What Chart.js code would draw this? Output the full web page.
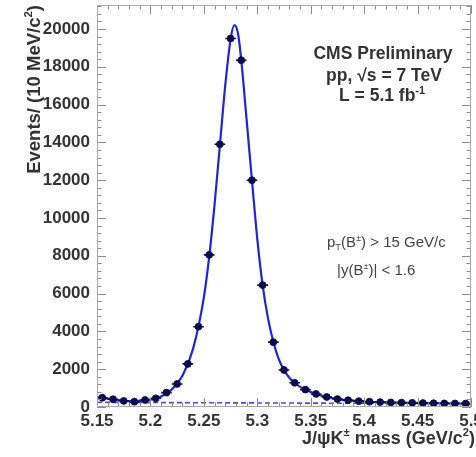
<!DOCTYPE html>
<html>
<head>
<meta charset="utf-8">
<title>B+ to J/psi K+ mass</title>
<script src="https://cdn.jsdelivr.net/npm/chart.js@4.4.1/dist/chart.umd.min.js"></script>
<style>
  html, body { margin: 0; padding: 0; background: #fff; }
  #wrap { width: 476px; height: 457px; position: relative; }
</style>
</head>
<body>
<div id="wrap"><canvas id="massChart" width="476" height="457"></canvas></div>
<script>
// candidates per 10 MeV bin
const binCenters = [5.155, 5.165, 5.175, 5.185, 5.195, 5.205, 5.215, 5.225, 5.235, 5.245,
                    5.255, 5.265, 5.275, 5.285, 5.295, 5.305, 5.315, 5.325, 5.335, 5.345,
                    5.355, 5.365, 5.375, 5.385, 5.395, 5.405, 5.415, 5.425, 5.435, 5.445,
                    5.455, 5.465, 5.475, 5.485, 5.495];
const binCounts = [490, 410, 320, 280, 370, 460, 760, 1220, 2280, 4250,
                   8050, 13900, 19500, 18350, 12000, 6450, 3430, 1960, 1280, 920,
                   690, 530, 420, 360, 310, 280, 260, 240, 230, 220,
                   210, 200, 190, 185, 180];

// total fit, sampled along the mass axis
const fitMass = [5.150, 5.160, 5.170, 5.180, 5.190, 5.200, 5.210, 5.220, 5.230, 5.240,
                 5.250, 5.255, 5.260, 5.265, 5.270, 5.275, 5.2785, 5.282, 5.285, 5.290,
                 5.295, 5.300, 5.305, 5.310, 5.315, 5.320, 5.325, 5.330, 5.335, 5.345,
                 5.355, 5.365, 5.375, 5.385, 5.400, 5.420, 5.440, 5.460, 5.480, 5.500];
const fitValues = [520, 440, 360, 310, 320, 390, 560, 930, 1650, 3100,
                   5800, 7950, 10700, 13850, 17000, 19450, 20200, 19750, 18350, 15200,
                   12000, 8900, 6450, 4700, 3450, 2550, 1950, 1550, 1270, 910,
                   690, 530, 420, 350, 290, 245, 220, 200, 185, 175];

// background component of the fit
const bkgMass = [5.15, 5.25, 5.35, 5.5];
const bkgValues = [250, 225, 205, 180];

const xTicks = [5.15, 5.2, 5.25, 5.3, 5.35, 5.4, 5.45, 5.5];
const xTickLabels = ['5.15', '5.2', '5.25', '5.3', '5.35', '5.4', '5.45', '5.5'];
const yTicks = [0, 2000, 4000, 6000, 8000, 10000, 12000, 14000, 16000, 18000, 20000];

const X_MIN = 5.15, X_MAX = 5.5, Y_MAX = 21270;
const BIN_HALF = 0.005;

const markerColor = '#0c0c4c';
const fitColor = '#2424c8';
const textColor = '#333';
const FONT = '"Liberation Sans", Arial, sans-serif';
const labelFont = { family: FONT, size: 17, weight: 'bold' };

function toPoints(xs, ys) {
  return xs.map((x, i) => ({ x: x, y: ys[i] }));
}

// text pieces with sub/superscripts, laid out left to right
function richWidth(ctx, parts, size, weight) {
  let w = 0;
  parts.forEach(p => {
    const s = p.sup || p.sub ? size * 0.62 : size;
    ctx.font = weight + ' ' + s + 'px ' + FONT;
    w += ctx.measureText(p.t).width;
  });
  return w;
}
function drawRich(ctx, parts, x, y, size, weight) {
  ctx.textBaseline = 'alphabetic';
  ctx.textAlign = 'left';
  parts.forEach(p => {
    const s = p.sup || p.sub ? size * 0.62 : size;
    ctx.font = weight + ' ' + s + 'px ' + FONT;
    let dy = 0;
    if (p.sup) dy = -size * 0.42;
    if (p.sub) dy = size * 0.22;
    ctx.fillText(p.t, x, y + dy);
    x += ctx.measureText(p.t).width;
  });
}

// frame, inward ticks on all four sides, error bars
const framePlugin = {
  id: 'frame',
  afterDatasetsDraw(chart) {
    const ctx = chart.ctx;
    const a = chart.chartArea;
    const xs = chart.scales.x, ys = chart.scales.y;

    ctx.save();
    ctx.strokeStyle = markerColor;
    ctx.lineWidth = 1.6;
    binCenters.forEach((m, i) => {
      const px = xs.getPixelForValue(m);
      const py = ys.getPixelForValue(binCounts[i]);
      const x0 = xs.getPixelForValue(m - BIN_HALF), x1 = xs.getPixelForValue(m + BIN_HALF);
      const err = Math.sqrt(binCounts[i]);
      ctx.beginPath();
      ctx.moveTo(x0, py); ctx.lineTo(x1, py);
      ctx.moveTo(px, ys.getPixelForValue(binCounts[i] - err));
      ctx.lineTo(px, ys.getPixelForValue(binCounts[i] + err));
      ctx.stroke();
    });
    ctx.restore();

    ctx.save();
    ctx.strokeStyle = '#8c8c8c';
    ctx.lineWidth = 1;
    ctx.beginPath();
    for (let v = 0; v <= Y_MAX; v += 400) {
      const py = Math.round(ys.getPixelForValue(v)) + 0.5;
      const len = v % 2000 === 0 ? 9 : 4.5;
      ctx.moveTo(a.left, py); ctx.lineTo(a.left + len, py);
      ctx.moveTo(a.right, py); ctx.lineTo(a.right - len, py);
    }
    for (let k = 0; k <= 35; k++) {
      const m = X_MIN + k * 0.01;
      const px = Math.round(xs.getPixelForValue(m)) + 0.5;
      const len = k % 5 === 0 ? 9 : 4.5;
      ctx.moveTo(px, a.bottom); ctx.lineTo(px, a.bottom - len);
      ctx.moveTo(px, a.top); ctx.lineTo(px, a.top + len);
    }
    ctx.stroke();
    ctx.strokeStyle = '#a8a8a8';
    ctx.strokeRect(a.left + 0.5, a.top + 0.5, a.right - a.left - 1, a.bottom - a.top - 1);
    ctx.restore();
  },
  afterDraw(chart) {
    const ctx = chart.ctx;
    ctx.save();
    ctx.fillStyle = textColor;

    // y axis title, aligned to the top of the axis
    ctx.save();
    ctx.translate(40, 5);
    ctx.rotate(-Math.PI / 2);
    const yTitle = [{ t: 'Events/ (10 MeV/c' }, { t: '2', sup: true }, { t: ')' }];
    const yw = richWidth(ctx, yTitle, 18.5, 'bold');
    drawRich(ctx, yTitle, -yw, 0, 18.5, 'bold');
    ctx.restore();

    // x axis title, aligned to the right end
    const xTitle = [{ t: 'J/\u03C8K' }, { t: '\u00B1', sup: true }, { t: ' mass (GeV/c' }, { t: '2', sup: true }, { t: ')' }];
    const xw = richWidth(ctx, xTitle, 18, 'bold');
    drawRich(ctx, xTitle, 475 - xw, 444, 18, 'bold');

    const centred = (parts, cx, y, size, weight) => {
      const w = richWidth(ctx, parts, size, weight);
      drawRich(ctx, parts, cx - w / 2, y, size, weight);
    };
    centred([{ t: 'CMS Preliminary' }], 383, 59, 17.5, 'bold');
    centred([{ t: 'pp, \u221As = 7 TeV' }], 384, 81, 17.5, 'bold');
    centred([{ t: 'L = 5.1 fb' }, { t: '-1', sup: true }], 382, 101, 17.5, 'bold');

    // selection cuts
    ctx.fillStyle = '#444';
    drawRich(ctx, [{ t: 'p' }, { t: 'T', sub: true }, { t: '(B' }, { t: '\u00B1', sup: true }, { t: ') > 15 GeV/c' }],
             327, 247, 15, 'normal');
    drawRich(ctx, [{ t: '|y(B' }, { t: '\u00B1', sup: true }, { t: ')| < 1.6' }], 337, 275, 15, 'normal');
    ctx.restore();
  }
};

const chart = new Chart(document.getElementById('massChart'), {
  type: 'scatter',
  data: {
    datasets: [
      {
        type: 'line',
        label: 'fit',
        data: toPoints(fitMass, fitValues),
        borderColor: fitColor,
        borderWidth: 2.2,
        pointRadius: 0,
        cubicInterpolationMode: 'monotone',
        fill: false,
        order: 2
      },
      {
        type: 'line',
        label: 'background',
        data: toPoints(bkgMass, bkgValues),
        borderColor: '#4a4ad8',
        borderWidth: 1.6,
        borderDash: [5, 3],
        pointRadius: 0,
        fill: false,
        order: 3
      },
      {
        label: 'data',
        data: toPoints(binCenters, binCounts),
        backgroundColor: markerColor,
        borderColor: markerColor,
        pointRadius: 3.4,
        pointHoverRadius: 3.4,
        order: 1
      }
    ]
  },
  options: {
    responsive: false,
    animation: false,
    events: [],
    layout: { padding: { left: 0, top: 5, right: 5, bottom: 0 } },
    plugins: { legend: { display: false }, tooltip: { enabled: false } },
    scales: {
      x: {
        type: 'linear',
        min: X_MIN,
        max: X_MAX,
        grid: { display: false, drawTicks: false },
        border: { display: false },
        afterBuildTicks: s => { s.ticks = xTicks.map(v => ({ value: v })); },
        afterFit: s => { s.height = 50; s.paddingLeft = 0; s.paddingRight = 0; },
        ticks: {
          padding: 4,
          maxRotation: 0,
          autoSkip: false,
          color: textColor,
          font: labelFont,
          callback: v => xTickLabels[xTicks.findIndex(t => Math.abs(t - v) < 1e-6)]
        }
      },
      y: {
        min: 0,
        max: Y_MAX,
        grid: { display: false, drawTicks: false },
        border: { display: false },
        afterBuildTicks: s => { s.ticks = yTicks.map(v => ({ value: v })); },
        afterFit: s => { s.width = 97; s.paddingTop = 0; s.paddingBottom = 0; },
        ticks: {
          padding: 7,
          autoSkip: false,
          color: textColor,
          font: labelFont,
          callback: v => String(v)
        }
      }
    }
  },
  plugins: [framePlugin]
});
</script>
</body>
</html>
